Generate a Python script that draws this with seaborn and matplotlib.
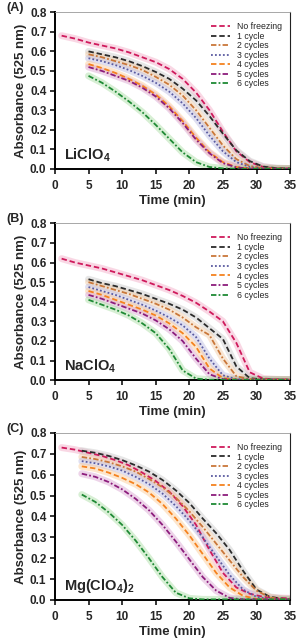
import matplotlib
matplotlib.use("Agg")
import matplotlib.pyplot as plt
import numpy as np
import pandas as pd
import seaborn as sns

sns.set_style("ticks")
plt.rcParams["font.family"] = ["Liberation Sans", "DejaVu Sans"]
plt.rcParams["mathtext.fontset"] = "custom"
plt.rcParams["mathtext.bf"] = "Liberation Sans:bold"
plt.rcParams["mathtext.rm"] = "Liberation Sans"

# time grids (min)
t_nf = [1, 3, 5, 7, 9, 11, 13, 15, 17, 19, 21, 23, 25, 27, 29, 31, 33, 35]
t_ab = [5, 7, 9, 11, 13, 15, 17, 19, 21, 23, 25, 27, 29, 31, 33, 35]
t_c = [4, 6, 8, 10, 12, 14, 16, 18, 20, 22, 24, 26, 28, 30, 32, 34, 35]

series = ["No freezing", "1 cycle", "2 cycles", "3 cycles", "4 cycles", "5 cycles", "6 cycles"]

# (A) LiClO4
a_nf = [0.68, 0.665, 0.645, 0.63, 0.615, 0.595, 0.57, 0.545, 0.51, 0.46, 0.39, 0.30, 0.19, 0.09, 0.035, 0.01, 0.003, 0.002]
a_c1 = [0.60, 0.585, 0.57, 0.55, 0.525, 0.495, 0.46, 0.41, 0.35, 0.27, 0.18, 0.095, 0.04, 0.012, 0.004, 0.002]
a_c2 = [0.585, 0.57, 0.55, 0.53, 0.505, 0.47, 0.43, 0.375, 0.30, 0.21, 0.12, 0.05, 0.015, 0.004, 0.002, 0.001]
a_c3 = [0.565, 0.55, 0.53, 0.505, 0.475, 0.44, 0.395, 0.335, 0.26, 0.17, 0.09, 0.035, 0.01, 0.003, 0.001, 0.001]
a_c4 = [0.535, 0.515, 0.49, 0.46, 0.425, 0.38, 0.32, 0.245, 0.16, 0.085, 0.035, 0.01, 0.003, 0.001, 0.001, 0.001]
a_c5 = [0.52, 0.50, 0.475, 0.45, 0.415, 0.37, 0.31, 0.235, 0.15, 0.08, 0.03, 0.008, 0.002, 0.001, 0.001, 0.001]
a_c6 = [0.475, 0.44, 0.395, 0.345, 0.29, 0.225, 0.155, 0.085, 0.035, 0.01, 0.003, 0.001, 0.001, 0.001, 0.001, 0.001]

# (B) NaClO4
b_nf = [0.62, 0.60, 0.585, 0.57, 0.55, 0.53, 0.51, 0.485, 0.46, 0.43, 0.395, 0.35, 0.30, 0.19, 0.04, 0.008, 0.004, 0.003]
b_c1 = [0.515, 0.495, 0.48, 0.46, 0.44, 0.415, 0.39, 0.36, 0.32, 0.265, 0.21, 0.07, 0.01, 0.004, 0.003, 0.002]
b_c2 = [0.50, 0.48, 0.46, 0.44, 0.415, 0.39, 0.36, 0.32, 0.27, 0.23, 0.11, 0.02, 0.005, 0.003, 0.002, 0.002]
b_c3 = [0.475, 0.455, 0.435, 0.41, 0.385, 0.355, 0.32, 0.28, 0.22, 0.11, 0.025, 0.005, 0.003, 0.002, 0.002, 0.002]
b_c4 = [0.455, 0.435, 0.41, 0.385, 0.36, 0.33, 0.29, 0.24, 0.17, 0.06, 0.01, 0.003, 0.002, 0.002, 0.002, 0.002]
b_c5 = [0.435, 0.415, 0.39, 0.365, 0.34, 0.305, 0.26, 0.20, 0.11, 0.03, 0.005, 0.002, 0.002, 0.002, 0.002, 0.002]
b_c6 = [0.41, 0.385, 0.36, 0.33, 0.29, 0.24, 0.16, 0.05, 0.008, 0.002, 0.002, 0.002, 0.002, 0.002, 0.002, 0.002]

# (C) Mg(ClO4)2
c_nf = [0.73, 0.72, 0.705, 0.69, 0.67, 0.645, 0.61, 0.57, 0.52, 0.45, 0.36, 0.24, 0.13, 0.06, 0.03, 0.015, 0.01, 0.008]
c_c1 = [0.715, 0.705, 0.69, 0.67, 0.645, 0.615, 0.575, 0.525, 0.465, 0.39, 0.32, 0.24, 0.14, 0.05, 0.015, 0.005, 0.004]
c_c2 = [0.685, 0.675, 0.66, 0.64, 0.615, 0.58, 0.54, 0.49, 0.425, 0.35, 0.27, 0.19, 0.11, 0.045, 0.012, 0.004, 0.003]
c_c3 = [0.665, 0.655, 0.64, 0.62, 0.59, 0.555, 0.51, 0.45, 0.38, 0.30, 0.21, 0.12, 0.05, 0.015, 0.005, 0.003, 0.003]
c_c4 = [0.64, 0.63, 0.61, 0.585, 0.555, 0.515, 0.46, 0.39, 0.31, 0.22, 0.13, 0.06, 0.02, 0.005, 0.003, 0.003, 0.003]
c_c5 = [0.605, 0.59, 0.565, 0.53, 0.485, 0.43, 0.36, 0.28, 0.195, 0.11, 0.045, 0.01, 0.003, 0.003, 0.003, 0.003, 0.003]
c_c6 = [0.505, 0.47, 0.42, 0.36, 0.285, 0.20, 0.11, 0.035, 0.008, 0.003, 0.003, 0.003, 0.003, 0.003, 0.003, 0.003, 0.003]

colors = ["#cf1a5c", "#2b2b2b", "#c9773a", "#5b5ba0", "#f5821f", "#8c1c7c", "#1f8a35"]
bands = ["#f2a8c4", "#c8c8c8", "#f0c8a0", "#b9b9e0", "#fcc890", "#d9a0d0", "#a8dca0"]
dashes = [(3, 1.6), (3, 1.6), (3, 1.2, 1, 1.2), (1, 1.2), (3, 1.6), (3, 1.2, 1, 1.2), (3, 1.2, 1, 1.2)]

panels = [
    ("(A)", r"$\mathbf{LiClO_4}$", t_nf, t_ab, [a_nf, a_c1, a_c2, a_c3, a_c4, a_c5, a_c6]),
    ("(B)", r"$\mathbf{NaClO_4}$", t_nf, t_ab, [b_nf, b_c1, b_c2, b_c3, b_c4, b_c5, b_c6]),
    ("(C)", r"$\mathbf{Mg(ClO_4)_2}$", t_nf, t_c, [c_nf, c_c1, c_c2, c_c3, c_c4, c_c5, c_c6]),
]

# axes boxes in figure fraction [left, bottom, width, height]
boxes = [
    [0.183, 0.736, 0.784, 0.245],
    [0.183, 0.406, 0.784, 0.245],
    [0.183, 0.0625, 0.784, 0.261],
]

fig = plt.figure(figsize=(3, 6.4), dpi=100)

for (tag, salt, tn, tc, vals), box in zip(panels, boxes):
    ax = fig.add_axes(box)
    # faint bands behind the fitted lines
    for i, name in enumerate(series):
        t = tn if i == 0 else tc
        df = pd.DataFrame({"Time": t, "Abs": vals[i]})
        sns.lineplot(data=df, x="Time", y="Abs", ax=ax, color=bands[i], lw=5, alpha=0.45,
                     solid_capstyle="round", zorder=1)
    for i, name in enumerate(series):
        t = tn if i == 0 else tc
        df = pd.DataFrame({"Time": t, "Abs": vals[i]})
        sns.lineplot(data=df, x="Time", y="Abs", ax=ax, color=colors[i], lw=1.3,
                     dashes=False, label=name, zorder=3)
        ax.lines[-1].set_dashes(dashes[i])

    ax.set_xlim(0, 35)
    ax.set_ylim(0, 0.8)
    ax.set_xticks(np.arange(0, 36, 5))
    ax.set_yticks(np.arange(0, 0.81, 0.1))
    ax.set_yticklabels([f"{v:.1f}" for v in np.arange(0, 0.81, 0.1)])
    ax.tick_params(axis="both", labelsize=8.5, width=1.3, length=3.6, pad=2.5)
    ax.tick_params(axis="x", pad=4)
    for lab in ax.get_xticklabels() + ax.get_yticklabels():
        lab.set_fontweight("bold")
    ax.set_xlabel("Time (min)", fontsize=9.5, fontweight="bold", labelpad=2.5)
    ax.set_ylabel("Absorbance (525 nm)", fontsize=9.5, fontweight="bold", labelpad=2)
    for s in ["left", "bottom"]:
        ax.spines[s].set_linewidth(1.4)
        ax.spines[s].set_color("black")
    ax.spines["top"].set_visible(True)
    ax.spines["top"].set_linewidth(0.6)
    ax.spines["top"].set_color("#999999")
    ax.spines["right"].set_visible(True)
    ax.spines["right"].set_linewidth(0.8)
    ax.spines["right"].set_color("#222222")

    ax.text(0.04, 0.03, salt, transform=ax.transAxes, fontsize=10.5, ha="left", va="bottom")
    ax.text(-0.205, 1.025, tag, transform=ax.transAxes, fontsize=9, fontweight="bold",
            ha="left", va="center")

    leg = ax.legend(loc="upper right", bbox_to_anchor=(1.01, 1.0), frameon=False, fontsize=6.3,
                    handlelength=2.2, handletextpad=0.8, labelspacing=0.06, borderaxespad=0.75)
    for h, d in zip(leg.get_lines(), dashes):
        h.set_dashes(d)

fig.savefig("out.png", dpi=100)
